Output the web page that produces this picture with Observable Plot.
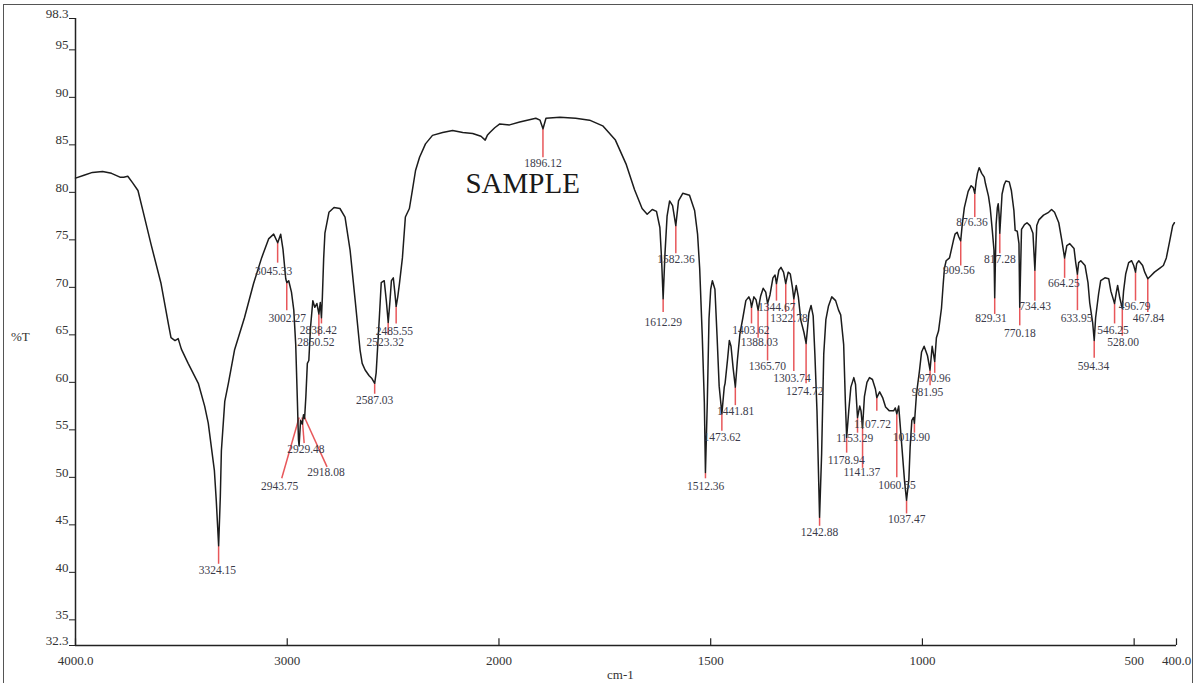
<!DOCTYPE html>
<html><head><meta charset="utf-8">
<script src="https://cdn.jsdelivr.net/npm/d3@7"></script>
<script src="https://cdn.jsdelivr.net/npm/@observablehq/plot@0.6"></script>
<style>
html,body{margin:0;padding:0;background:#fff;}
#wrap{position:relative;width:1197px;height:683px;overflow:hidden;font-family:"Liberation Serif","Times New Roman",serif;}
#chart{position:absolute;left:0;top:0;}
#frame{position:absolute;left:3px;top:4px;width:1188px;height:720px;border:1.5px solid #555;pointer-events:none;}
.lab{position:absolute;color:#333;font-size:13px;line-height:1;}
</style></head><body>
<div id="wrap"><div id="chart"></div><div id="frame"></div>
<div class="lab" style="left:11px;top:330px">%T</div>
<div class="lab" style="left:607px;top:668px">cm-1</div></div>
<script>
// Spectrum (wavenumber cm-1, %T)
const wn = [4000,3960,3920,3872,3830,3790,3772,3753,3730,3705,3682,3644,3596,3560,3549,3530,3515,3500,3468,3420,3390,3373,3344,3335,3324,3316,3311,3295,3278,3249,3202,3159,3121,3088,3064,3045,3031,3020,3007,3002,2993,2980,2969,2960,2952,2947,2944,2937,2929,2923,2918,2912,2905,2898,2890,2879,2870,2860,2850.5,2844,2838.4,2834,2828,2822,2803,2779,2751,2727,2703,2679,2656,2646,2632,2613,2600,2587,2580,2565,2556,2542,2532,2523,2515,2508,2499,2492,2485.5,2478,2470,2456,2442,2423,2409,2394,2375,2347,2314,2266,2219,2171,2124,2085,2065,2055,2043,2020,1998,1975,1951,1913,1903,1896,1889,1856,1819,1786,1755,1725,1700,1680,1662,1650,1638,1628,1620,1616,1612.3,1608,1603,1597,1590,1582.4,1576,1566,1550,1538,1531,1526,1520,1515,1512.4,1508,1504,1500,1496,1490,1485,1480,1473.6,1468,1466,1460,1456,1452,1447,1441.8,1437,1431,1424,1417,1410,1406,1403.6,1398,1393,1388,1382,1376,1370,1365.7,1360,1353,1348,1344.7,1339,1334,1328,1322.8,1317,1312,1307,1303.7,1298,1293,1287,1280,1274.7,1268,1263,1258,1254,1249,1242.9,1238,1233,1228,1222,1214,1205,1198,1193,1186,1182,1178.9,1174,1169,1162,1158,1153.3,1148,1145,1141.4,1137,1131,1125,1118,1111,1107.7,1101,1094,1087,1078,1068,1064,1060.5,1056,1049,1042,1037.5,1032,1029,1025,1021,1018.9,1014,1007,1002,996,988,982,977,971,967,962,955,951,948,944,936,927,923,918,914,909.6,906,901,892,885,880,876.4,873,870,866,860,854,851,844,840,835,831,829.3,826,823,821,819,817.3,812,807,803,795,790,784,781,776,772,770.2,766,759,753,746,739,734.4,730,725,714,702,695,688,678,671,664.3,659,652,642,638,634,631,626,616,609,605,598,594.3,591,584,579,569,560,555,546.3,542,539,534,528,525,520,513,506,501,496.8,494,489,480,475,467.8,461,452,440,431,424,416,409,405];
const tr = [81.5,81.8,82.1,82.2,82.0,81.6,81.6,81.7,81.0,80.2,78.1,74.6,70.4,66.0,64.7,64.4,64.6,63.5,62.0,59.9,57.5,55.7,50.7,47.5,42.8,48.0,52.8,58.0,59.9,63.4,66.8,70.4,73.1,75.1,75.6,74.7,75.6,74.0,70.9,70.5,70.7,69.5,67.6,64.0,58.0,54.0,53.3,56.0,55.6,56.6,56.2,58.5,62.0,62.3,65.8,68.6,67.9,68.3,67.2,68.4,66.8,69.0,73.0,75.7,77.9,78.4,78.3,77.4,73.9,68.6,63.4,62.0,61.3,60.7,60.4,59.9,61.0,66.8,70.5,70.7,68.6,66.3,68.5,70.7,71.0,69.5,68.0,69.0,70.4,73.1,77.4,78.3,80.2,82.3,83.7,85.1,86.0,86.3,86.5,86.3,86.2,85.9,85.5,86.0,86.3,86.8,87.2,87.1,87.4,87.8,87.6,86.7,87.8,87.9,87.8,87.6,87.0,85.5,83.0,80.3,78.3,77.7,78.2,78.0,76.3,73.0,68.8,73.5,77.5,79.1,78.6,76.5,79.1,79.9,79.7,78.1,75.6,72.0,65.0,57.9,50.5,57.9,66.7,69.8,70.7,69.8,64.9,59.6,56.7,59.5,59.9,62.5,64.4,63.8,61.5,59.5,62.3,65.1,66.8,68.6,69.0,68.6,67.9,69.0,68.7,67.6,69.1,69.9,69.5,68.3,69.2,71.0,71.3,70.4,71.8,72.1,71.6,70.4,71.6,71.4,70.0,68.8,70.2,69.0,66.5,65.3,64.1,67.3,68.1,67.0,63.0,57.0,45.8,52.5,63.0,66.6,68.0,69.0,68.6,67.6,67.1,64.0,58.0,54.2,57.0,59.5,60.5,59.8,56.3,57.5,57.0,55.2,58.5,60.0,60.5,60.3,59.3,58.4,59.0,58.4,57.4,57.0,57.0,57.3,56.7,57.5,53.5,49.5,47.6,49.8,53.2,56.0,56.3,55.7,58.8,61.2,63.2,63.8,62.8,61.3,63.8,62.2,64.7,65.4,67.8,70.3,72.0,72.8,73.1,74.9,75.6,75.8,75.3,74.9,76.6,78.4,80.1,80.7,80.5,79.9,81.2,82.0,82.6,82.0,81.6,80.9,79.6,78.4,76.0,73.9,68.9,76.6,78.4,78.8,77.7,75.7,79.8,80.8,81.2,81.1,80.2,78.1,76.0,75.9,74.6,67.9,76.1,76.6,76.8,76.5,75.7,71.8,76.5,77.1,77.6,77.9,78.2,77.9,76.8,75.0,73.1,74.4,74.6,74.1,72.6,71.4,72.6,72.8,72.3,70.5,68.4,66.3,64.4,66.8,69.3,70.7,71.0,70.9,69.6,68.3,69.5,70.2,68.9,67.8,69.6,71.4,72.6,72.8,72.3,71.6,72.5,72.8,72.3,71.6,70.9,71.2,71.6,72.0,72.3,73.1,74.9,76.5,76.8];

// Peak picks
const peakLabels = ["3324.15","3045.33","3002.27","2943.75","2929.48","2918.08","2850.52","2838.42","2587.03","2523.32","2485.55","1896.12","1612.29","1582.36","1512.36","1473.62","1441.81","1403.62","1388.03","1365.70","1344.67","1322.78","1303.74","1274.72","1242.88","1178.94","1153.29","1141.37","1107.72","1060.55","1037.47","1018.90","981.95","970.96","909.56","876.36","829.31","817.28","770.18","734.43","664.25","633.95","594.34","546.25","528.00","496.79","467.84"];
const peakWn =   [3324.15,3045.33,3002.27,2943.75,2929.48,2918.08,2850.52,2838.42,2587.03,2523.32,2485.55,1896.12,1612.29,1582.36,1512.36,1473.62,1441.81,1403.62,1388.03,1365.70,1344.67,1322.78,1303.74,1274.72,1242.88,1178.94,1153.29,1141.37,1107.72,1060.55,1037.47,1018.90,981.95,970.96,909.56,876.36,829.31,817.28,770.18,734.43,664.25,633.95,594.34,546.25,528.00,496.79,467.84];
const peakTip =  [42.8,74.7,70.6,56.3,56.3,56.3,67.2,66.8,59.9,66.3,68.0,86.7,68.8,76.5,50.5,56.7,59.5,67.9,67.6,68.3,70.4,70.4,68.8,64.1,45.8,54.2,56.3,55.2,58.4,56.7,47.6,55.7,61.3,62.2,74.9,79.9,68.9,75.7,67.9,71.8,73.1,71.4,64.4,68.3,67.8,71.6,70.9];
const peakEndWn = [3324.15,3045.33,3002.27,3026,2920,2812,2850.52,2838.42,2587.03,2523.32,2485.55,1896.12,1612.29,1582.36,1512.36,1473.62,1441.81,1403.62,1388.03,1365.70,1344.67,1322.78,1303.74,1274.72,1242.88,1178.94,1153.29,1141.37,1107.72,1060.55,1037.47,1018.90,981.95,970.96,909.56,876.36,829.31,817.28,770.18,734.43,664.25,633.95,594.34,546.25,528.00,496.79,467.84];
const peakEnd =  [40.9,72.6,67.6,49.9,53.6,51.1,64.9,66.2,58.8,65.0,66.2,83.7,67.4,73.6,49.9,54.9,57.6,66.2,64.7,62.3,68.6,67.4,61.2,59.9,44.9,52.6,54.7,51.0,57.0,50.0,46.2,54.7,59.7,61.0,72.3,77.4,67.2,73.6,66.0,68.6,71.0,67.6,62.6,66.2,64.9,68.6,67.4];
const labelWn =  [3330,3064,3000,3036,2912,2817,2865,2853,2587,2537,2494,1896,1612,1582,1512,1473,1441,1405,1385,1366,1344,1315,1308,1278,1243,1180,1160,1143,1118,1060,1037,1026,988,971,914,883,838,817,770,734,666,636,596,550,526,499,466];
const labelT =   [40.2,71.7,66.7,49.1,53.0,50.5,64.2,65.5,58.1,64.2,65.4,83.1,66.3,73.0,49.1,54.2,56.9,65.5,64.2,61.7,67.9,66.7,60.4,59.1,44.2,51.8,54.1,50.5,55.6,49.2,45.6,54.2,58.9,60.4,71.8,76.8,66.7,73.0,65.2,68.0,70.4,66.7,61.7,65.5,64.2,68.0,66.7];

// Axes
const xTicks = [4000,3000,2000,1500,1000,500,400];
const xTickLabels = ["4000.0","3000","2000","1500","1000","500","400.0"];
const yTicks = [98.3,95,90,85,80,75,70,65,60,55,50,45,40,35,32.3];
const yTickLabels = ["98.3","95","90","85","80","75","70","65","60","55","50","45","40","35","32.3"];
const sampleName = ["SAMPLE"];

// The instrument's abscissa is expanded 2x below 2000 cm-1: position along the axis
const axisPos = w => w >= 2000 ? 4000 - w : 2000 + (2000 - w) * 2;

const spectrum = wn.map((w, i) => ({w, t: tr[i]}));
const peaks = peakLabels.map((s, i) => ({s, w: peakWn[i], tip: peakTip[i], ew: peakEndWn[i], end: peakEnd[i], lw: labelWn[i], lt: labelT[i]}));
const xl = new Map(xTicks.map((d, i) => [d, xTickLabels[i]]));
const yl = new Map(yTicks.map((d, i) => [d, yTickLabels[i]]));

const serif = "Liberation Serif, Times New Roman, serif";
const chart = Plot.plot({
  width: 1197, height: 683,
  marginLeft: 75, marginRight: 21, marginTop: 18, marginBottom: 38,
  x: {type: "linear", domain: [axisPos(4000), axisPos(400)], range: [75, 1176], axis: null},
  y: {type: "linear", domain: [32.3, 98.3], range: [645, 18]},
  style: {fontFamily: serif, fontSize: "13px", color: "#333", background: "transparent"},
  marks: [
    Plot.link(peaks, {x1: d => axisPos(d.w), y1: "tip", x2: d => axisPos(d.ew), y2: "end", stroke: "#e8575a", strokeWidth: 1.5}),
    Plot.line(spectrum, {x: d => axisPos(d.w), y: "t", stroke: "#1c1c1c", strokeWidth: 1.5}),
    Plot.text(peaks, {x: d => axisPos(d.lw), y: "lt", text: "s", fontSize: 11.5, fill: "#3b3b4a", fontFamily: serif}),
    Plot.ruleX([axisPos(4000)], {stroke: "#222", strokeWidth: 1.5}),
    Plot.ruleY([32.3], {stroke: "#222", strokeWidth: 1.5}),
    Plot.axisY({ticks: yTicks, tickSize: 6, tickFormat: () => "", stroke: "#222"}),
    Plot.text(yTicks, {x: axisPos(4000), y: d => d, text: d => yl.get(d), textAnchor: "end", dx: -7, dy: -5, fontSize: 13, fill: "#333", fontFamily: serif}),
    Plot.ruleX(xTicks, {x: d => axisPos(d), y1: 32.3, y2: 33.0, stroke: "#222", strokeWidth: 1.2}),
    Plot.text(xTicks, {x: d => axisPos(d), y: 32.3, text: d => xl.get(d), dy: 15, fontSize: 13, fill: "#333", fontFamily: serif}),
    Plot.text(sampleName, {x: axisPos(1944), y: 80.9, text: d => d, fontSize: 29, fill: "#1a1a1a", fontFamily: serif})
  ]
});
document.getElementById("chart").appendChild(chart);
</script>
</body></html>
